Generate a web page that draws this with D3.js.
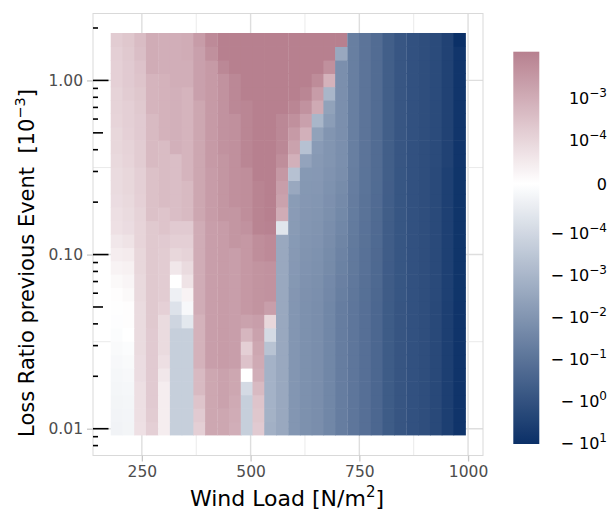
<!DOCTYPE html>
<html>
<head>
<meta charset="utf-8">
<script src="https://cdn.jsdelivr.net/npm/d3@7"></script>
<style>
  body { margin: 0; background: #ffffff; }
  text { font-family: "DejaVu Sans", sans-serif; }
</style>
</head>
<body>
<svg id="chart" width="611" height="510"></svg>
<script>
// Wind load categories [N/m^2] (tile centres)
const windLoads = [192, 219, 246, 273, 301, 328, 355, 382, 409, 437, 464, 491, 518, 545, 572,
                   600, 627, 654, 681, 708, 736, 763, 790, 817, 844, 872, 899, 926, 953, 980];

// Loss ratio of the previous event [10^-3] (tile centres, log spaced)
const lossRatios = [0.0100, 0.0119, 0.0142, 0.0170, 0.0203, 0.0242, 0.0289, 0.0345, 0.0412, 0.0492,
                    0.0587, 0.0701, 0.0837, 0.0999, 0.119, 0.142, 0.170, 0.203, 0.242, 0.289,
                    0.345, 0.412, 0.492, 0.587, 0.701, 0.837, 0.999, 1.19, 1.42, 1.70];

// Change in loss; one row per loss ratio (lowest first), one column per wind load
const deltaLoss = [
  [-3.2e-5,-2.8e-5,6.8e-5,1.2e-4,4e-5,-2.2e-4,-2.2e-4,1.2e-4,1.2e-3,1.2e-3,7.7e-4,-2.2e-4,1.55e-4,-1.8e-3,-3.1e-3,-1.1e-2,-1.55e-2,-1.9e-2,-3.1e-2,-6.1e-2,-9.7e-2,-0.155,-0.27,-0.61,-0.97,-1.23,-1.55,-2.2,-4.4,-9.3],
  [-3e-5,-2.7e-5,7.2e-5,1.4e-4,4e-5,-2.2e-4,-2.2e-4,1.55e-4,1.2e-3,1.2e-3,8.7e-4,-2.2e-4,1.9e-4,-1.6e-3,-3.1e-3,-1.1e-2,-1.55e-2,-1.9e-2,-3.1e-2,-6.1e-2,-9.7e-2,-0.155,-0.27,-0.61,-0.97,-1.23,-1.55,-2.2,-4.4,-9.3],
  [-2.8e-5,-2.5e-5,7.2e-5,1.55e-4,4e-5,-2.2e-4,-2.2e-4,2.2e-4,1.2e-3,1.55e-3,9.7e-4,-2.2e-4,2.2e-4,-1.55e-3,-3.1e-3,-1.1e-2,-1.55e-2,-1.9e-2,-3.1e-2,-6.1e-2,-9.7e-2,-0.155,-0.27,-0.61,-0.97,-1.23,-1.55,-2.2,-4.4,-9.3],
  [-2.5e-5,-2.2e-5,7.2e-5,1.55e-4,4e-5,-2.2e-4,-2.2e-4,3.9e-4,1.2e-3,1.55e-3,1.2e-3,-9.9e-5,3.9e-4,-1.55e-3,-3.1e-3,-1.1e-2,-1.55e-2,-1.9e-2,-3.1e-2,-6.1e-2,-9.7e-2,-0.155,-0.27,-0.61,-0.97,-1.23,-1.55,-2.2,-4.4,-9.3],
  [-2.2e-5,-1.8e-5,7.7e-5,1.55e-4,5.4e-5,-2.2e-4,-2.2e-4,3.9e-4,1.2e-3,1.55e-3,1.2e-3,0,7.7e-4,-1.55e-3,-3.1e-3,-1.1e-2,-1.55e-2,-1.9e-2,-3.1e-2,-6.1e-2,-9.7e-2,-0.155,-0.27,-0.61,-0.97,-1.23,-1.55,-2.2,-4.4,-9.3],
  [-1.8e-5,-1.4e-5,7.7e-5,1.55e-4,7.2e-5,-2.2e-4,-2.2e-4,6.1e-4,1.9e-3,2.2e-3,1.9e-3,2.45e-4,9.7e-4,-1.55e-3,-3.1e-3,-1.1e-2,-1.55e-2,-1.9e-2,-3.1e-2,-6.1e-2,-9.7e-2,-0.155,-0.27,-0.61,-0.97,-1.23,-1.55,-2.2,-4.4,-9.3],
  [-1.3e-5,-9e-6,8.1e-5,1.55e-4,8.1e-5,-2.2e-4,-2.2e-4,6.1e-4,1.9e-3,2.2e-3,1.9e-3,1.2e-4,1.2e-3,-4.9e-4,-3.1e-3,-1.1e-2,-1.55e-2,-1.9e-2,-3.1e-2,-6.1e-2,-9.7e-2,-0.155,-0.27,-0.61,-0.97,-1.23,-1.55,-2.2,-4.4,-9.3],
  [-9e-6,0,8.1e-5,1.55e-4,8.1e-5,-2.2e-4,-2.2e-4,6.1e-4,1.9e-3,2.2e-3,1.9e-3,4.9e-4,1.55e-3,-9.9e-5,-3.1e-3,-1.1e-2,-1.55e-2,-1.9e-2,-3.1e-2,-6.1e-2,-9.7e-2,-0.155,-0.27,-0.61,-0.97,-1.23,-1.55,-2.2,-4.4,-9.3],
  [-5e-6,4.5e-6,8.1e-5,1.7e-4,8.1e-5,-1.4e-4,-6.3e-5,6.1e-4,1.9e-3,2.2e-3,1.9e-3,1.55e-3,1.9e-3,9e-5,-3.1e-3,-1.1e-2,-1.55e-2,-1.9e-2,-3.1e-2,-6.1e-2,-9.7e-2,-0.155,-0.27,-0.61,-0.97,-1.23,-1.55,-2.2,-4.4,-9.3],
  [2e-6,4.5e-6,8.1e-5,1.7e-4,1.1e-4,-7.7e-5,-1.8e-5,8.7e-4,1.9e-3,2.2e-3,1.9e-3,2.7e-3,3.5e-3,1.9e-3,-3.1e-3,-1.1e-2,-1.55e-2,-1.9e-2,-3.1e-2,-6.1e-2,-9.7e-2,-0.155,-0.27,-0.61,-0.97,-1.23,-1.55,-2.2,-4.4,-9.3],
  [4.5e-6,1.4e-5,8.5e-5,1.7e-4,1.4e-4,-4e-5,2.7e-5,8.7e-4,1.9e-3,2.2e-3,1.9e-3,2.7e-3,3.5e-3,3.9e-3,-3.1e-3,-1.05e-2,-1.5e-2,-1.8e-2,-2.8e-2,-5.5e-2,-9.3e-2,-0.15,-0.26,-0.6,-0.92,-1.23,-1.55,-2.05,-4.0,-9.0],
  [1.4e-5,2.3e-5,8.5e-5,1.7e-4,1.4e-4,0,6.3e-5,8.7e-4,1.9e-3,2.2e-3,1.9e-3,2.7e-3,3.5e-3,3.9e-3,-3.1e-3,-9.7e-3,-1.4e-2,-1.7e-2,-2.6e-2,-4.9e-2,-8.7e-2,-0.145,-0.25,-0.59,-0.92,-1.23,-1.55,-2.05,-4.0,-9.0],
  [2.7e-5,3.2e-5,9e-5,1.7e-4,1.4e-4,5.4e-5,8.1e-5,8.7e-4,1.9e-3,2.2e-3,1.9e-3,2.7e-3,3.5e-3,3.9e-3,-3.1e-3,-9.3e-3,-1.3e-2,-1.55e-2,-2.4e-2,-4.4e-2,-8.3e-2,-0.14,-0.24,-0.58,-0.92,-1.23,-1.55,-2.05,-4.0,-9.0],
  [4e-5,4.5e-5,9e-5,1.7e-4,1.4e-4,9e-5,9.9e-5,8.7e-4,1.9e-3,2.2e-3,1.9e-3,2.7e-3,4.9e-3,6.1e-3,-3.1e-3,-8.9e-3,-1.25e-2,-1.45e-2,-2.2e-2,-3.9e-2,-7.9e-2,-0.137,-0.235,-0.57,-0.92,-1.23,-1.55,-2.05,-4.0,-9.0],
  [5.4e-5,6.3e-5,9.5e-5,1.7e-4,1.55e-4,1.2e-4,1.2e-4,8.7e-4,1.9e-3,2.2e-3,3.1e-3,2.7e-3,4.9e-3,6.1e-3,-3.1e-3,-8.5e-3,-1.2e-2,-1.35e-2,-2.0e-2,-3.5e-2,-7.5e-2,-0.13,-0.228,-0.555,-0.92,-1.23,-1.55,-2.05,-4.0,-9.0],
  [6.8e-5,7.7e-5,9.5e-5,1.7e-4,2.2e-4,1.55e-4,1.55e-4,8.7e-4,1.9e-3,2.2e-3,3.1e-3,3.9e-3,8.7e-3,9.7e-3,-7e-5,-7.9e-3,-1.1e-2,-1.25e-2,-1.85e-2,-3.1e-2,-7.1e-2,-0.128,-0.22,-0.545,-0.92,-1.23,-1.55,-2.05,-4.0,-9.0],
  [7.2e-5,8.1e-5,9.9e-5,2.7e-4,2.2e-4,3.1e-4,3.9e-4,1.2e-3,2.2e-3,3.1e-3,3.1e-3,4.9e-3,8.7e-3,1.05e-2,8.7e-4,-7.5e-3,-1.05e-2,-1.2e-2,-1.7e-2,-2.75e-2,-6.7e-2,-0.123,-0.213,-0.535,-0.92,-1.23,-1.55,-2.05,-4.0,-9.0],
  [7.7e-5,8.5e-5,1.1e-4,2.7e-4,3.5e-4,3.1e-4,3.9e-4,1.2e-3,2.2e-3,3.1e-3,4.4e-3,4.9e-3,8.7e-3,1.05e-2,1.55e-3,-7.2e-3,-1.0e-2,-1.1e-2,-1.6e-2,-2.45e-2,-6.4e-2,-0.12,-0.207,-0.52,-0.92,-1.23,-1.55,-2.05,-4.0,-9.0],
  [8.1e-5,9e-5,1.2e-4,2.7e-4,3.5e-4,3.1e-4,3.9e-4,1.2e-3,2.2e-3,3.1e-3,4.4e-3,4.9e-3,8.7e-3,1.05e-2,1.9e-3,-3.1e-3,-9.7e-3,-1.0e-2,-1.45e-2,-2.2e-2,-6.1e-2,-0.117,-0.2,-0.51,-0.92,-1.23,-1.55,-2.05,-4.0,-9.0],
  [8.1e-5,9e-5,1.2e-4,2.7e-4,3.5e-4,3.1e-4,5.5e-4,1.2e-3,2.2e-3,3.1e-3,4.4e-3,4.9e-3,1.05e-2,1.05e-2,2.7e-3,-5.5e-4,-9.1e-3,-9.3e-3,-1.35e-2,-1.9e-2,-5.8e-2,-0.112,-0.197,-0.5,-0.92,-1.23,-1.55,-2.05,-4.0,-9.0],
  [8.5e-5,9.5e-5,1.4e-4,3.9e-4,3.5e-4,3.1e-4,5.5e-4,1.2e-3,2.45e-3,3.1e-3,4.4e-3,7.7e-3,1.05e-2,1.05e-2,4.9e-3,6.9e-4,-4.4e-3,-8.7e-3,-1.2e-2,-1.75e-2,-5.5e-2,-0.11,-0.194,-0.49,-0.87,-1.23,-1.55,-1.94,-3.5,-8.7],
  [9e-5,9.9e-5,1.4e-4,3.9e-4,3.5e-4,6.9e-4,5.5e-4,1.2e-3,2.45e-3,3.9e-3,4.4e-3,7.7e-3,1.05e-2,1.05e-2,6.9e-3,1.55e-3,-5.5e-4,-7.7e-3,-1.2e-2,-1.75e-2,-5.5e-2,-0.11,-0.194,-0.49,-0.87,-1.23,-1.55,-1.94,-3.5,-8.7],
  [9e-5,1.1e-4,1.55e-4,3.9e-4,6.1e-4,6.9e-4,5.5e-4,1.2e-3,2.45e-3,3.9e-3,4.4e-3,7.7e-3,1.05e-2,1.05e-2,6.9e-3,2.45e-3,6.9e-4,-4.9e-3,-1.2e-2,-1.75e-2,-5.5e-2,-0.11,-0.194,-0.49,-0.87,-1.23,-1.55,-1.94,-3.5,-8.7],
  [9.5e-5,1.2e-4,1.55e-4,3.9e-4,6.1e-4,6.9e-4,5.5e-4,1.2e-3,2.45e-3,3.9e-3,4.4e-3,7.7e-3,1.05e-2,1.05e-2,6.9e-3,4.4e-3,1.7e-3,-1.2e-3,-6.9e-3,-1.75e-2,-5.5e-2,-0.11,-0.194,-0.49,-0.87,-1.23,-1.55,-1.94,-3.5,-8.7],
  [9.9e-5,1.2e-4,1.7e-4,5.5e-4,6.1e-4,6.9e-4,5.5e-4,1.2e-3,2.45e-3,3.9e-3,6.9e-3,7.7e-3,1.05e-2,1.05e-2,1.05e-2,7.7e-3,3.9e-3,9.7e-4,-4.9e-3,-1.75e-2,-5.5e-2,-0.11,-0.194,-0.49,-0.87,-1.23,-1.55,-1.94,-3.5,-8.7],
  [9.9e-5,1.4e-4,1.9e-4,5.5e-4,6.1e-4,6.9e-4,5.5e-4,1.7e-3,2.45e-3,3.9e-3,6.9e-3,1.05e-2,1.05e-2,1.08e-2,1.05e-2,1.05e-2,7.7e-3,2.2e-3,-1.2e-3,-1.75e-2,-5.5e-2,-0.11,-0.194,-0.49,-0.87,-1.23,-1.55,-1.94,-3.5,-8.7],
  [1.1e-4,1.55e-4,2.2e-4,5.5e-4,6.1e-4,7.7e-4,7.7e-4,1.7e-3,2.45e-3,3.9e-3,6.9e-3,1.05e-2,1.05e-2,1.05e-2,1.05e-2,1.05e-2,1.05e-2,5.5e-3,6.1e-4,-1.75e-2,-5.5e-2,-0.11,-0.194,-0.49,-0.87,-1.23,-1.55,-1.94,-3.5,-8.7],
  [1.1e-4,1.55e-4,2.45e-4,8.7e-4,7.7e-4,7.7e-4,7.7e-4,1.7e-3,2.45e-3,6.9e-3,1.05e-2,1.05e-2,1.05e-2,1.05e-2,1.05e-2,1.05e-2,1.05e-2,1.05e-2,4.4e-3,-1.75e-2,-5.5e-2,-0.11,-0.194,-0.49,-0.87,-1.23,-1.55,-1.94,-3.5,-8.7],
  [1.2e-4,1.7e-4,3.1e-4,8.7e-4,7.7e-4,7.7e-4,8.7e-4,1.7e-3,4.4e-3,1.05e-2,1.05e-2,1.05e-2,1.05e-2,1.05e-2,1.05e-2,1.05e-2,1.05e-2,1.05e-2,1.05e-2,-3.1e-3,-5.5e-2,-0.11,-0.194,-0.49,-0.87,-1.23,-1.55,-1.94,-3.5,-8.7],
  [1.4e-4,1.9e-4,3.5e-4,8.7e-4,7.7e-4,7.7e-4,8.7e-4,2.2e-3,6.1e-3,1.05e-2,1.05e-2,1.05e-2,1.05e-2,1.05e-2,1.05e-2,1.05e-2,1.05e-2,1.05e-2,1.05e-2,1.05e-2,-5.5e-2,-0.11,-0.194,-0.49,-0.87,-1.23,-1.55,-1.94,-3.5,-12.4]
];

// Axis ticks and labels
const xTicks = [250, 500, 750, 1000];
const xMinorGrid = [375, 625, 875];
const yTicks = [0.01, 0.1, 1];
const yTickLabels = ["0.01", "0.10", "1.00"];
const yMinorGrid = [0.0316, 0.316];
// Colour bar ticks and the exponents printed in their labels
const colorTicks = [1e-3, 1e-4, 0, -1e-4, -1e-3, -1e-2, -1e-1, -1, -10];
const colorTickExps = ["\u22123", "\u22124", null, "\u22124", "\u22123", "\u22122", "\u22121", "0", "1"];

const colorLow = "#0b3067", colorMid = "#ffffff", colorHigh = "#b7808f";

// ---------------------------------------------------------------
const svg = d3.select("#chart");
const panel = { left: 93, right: 483, top: 13.5, bottom: 455.5 };

// symmetric log transform (linear within +-linthresh)
const linthresh = 1e-4, linAdj = 1 / (1 - 1 / 10);
function symlog(v) {
  const a = Math.abs(v);
  if (a <= linthresh) return v / linthresh * linAdj;
  return Math.sign(v) * (linAdj + Math.log10(a / linthresh));
}

const nx = windLoads.length, ny = lossRatios.length;
const xStep = (windLoads[nx - 1] - windLoads[0]) / (nx - 1);
const xLo = windLoads[0] - xStep / 2, xHi = windLoads[nx - 1] + xStep / 2;
const xPad = (xHi - xLo) * 0.05;
const x = d3.scaleLinear().domain([xLo - xPad, xHi + xPad]).range([panel.left, panel.right]);

const lStep = (Math.log10(lossRatios[ny - 1]) - Math.log10(lossRatios[0])) / (ny - 1);
const lLo = Math.log10(lossRatios[0]) - lStep / 2, lHi = Math.log10(lossRatios[ny - 1]) + lStep / 2;
const lPad = (lHi - lLo) * 0.05;
const y = d3.scaleLog().domain([10 ** (lLo - lPad), 10 ** (lHi + lPad)]).range([panel.bottom, panel.top]);

const flat = deltaLoss.flat();
const [vMin, vMax] = d3.extent(flat);
const tMin = symlog(vMin), tMax = symlog(vMax);
const color = d3.scaleLinear().domain([tMin, 0, tMax])
  .range([colorLow, colorMid, colorHigh]).interpolate(d3.interpolateRgb).clamp(true);

// grid
const grid = svg.append("g");
xMinorGrid.forEach(v => grid.append("line").attr("x1", x(v)).attr("x2", x(v))
  .attr("y1", panel.top).attr("y2", panel.bottom).attr("stroke", "#ebebeb").attr("stroke-width", 1));
xTicks.forEach(v => grid.append("line").attr("x1", x(v)).attr("x2", x(v))
  .attr("y1", panel.top).attr("y2", panel.bottom).attr("stroke", "#dedede").attr("stroke-width", 1.4));
yMinorGrid.forEach(v => grid.append("line").attr("y1", y(v)).attr("y2", y(v))
  .attr("x1", panel.left).attr("x2", panel.right).attr("stroke", "#ebebeb").attr("stroke-width", 1));
yTicks.forEach(v => grid.append("line").attr("y1", y(v)).attr("y2", y(v))
  .attr("x1", panel.left).attr("x2", panel.right).attr("stroke", "#dedede").attr("stroke-width", 1.4));

// tiles
const cells = [];
deltaLoss.forEach((row, j) => row.forEach((v, i) => cells.push({ i, j, v })));
const tileW = Math.abs(x(xStep) - x(0));
svg.append("g").selectAll("rect").data(cells).join("rect")
  .attr("x", d => x(windLoads[d.i] - xStep / 2))
  .attr("width", tileW + 0.6)
  .attr("y", d => y(lossRatios[d.j] * 10 ** (lStep / 2)) - 0.6)
  .attr("height", d => y(lossRatios[d.j] / 10 ** (lStep / 2)) - y(lossRatios[d.j] * 10 ** (lStep / 2)) + 0.6)
  .attr("fill", d => color(symlog(d.v)));

// panel border
svg.append("rect").attr("x", panel.left).attr("y", panel.top)
  .attr("width", panel.right - panel.left).attr("height", panel.bottom - panel.top)
  .attr("fill", "none").attr("stroke", "#d9d9d9").attr("stroke-width", 1);

// log ticks along the left edge
const logTicks = svg.append("g").attr("stroke", "#000").attr("stroke-width", 1.6);
for (let d = -3; d <= 1; d++) {
  for (let k = 1; k <= 9; k++) {
    const v = k * 10 ** d;
    const py = y(v);
    if (py < panel.top || py > panel.bottom) continue;
    const len = k === 1 ? 15.5 : (k === 5 ? 10 : 5);
    logTicks.append("line").attr("x1", panel.left).attr("x2", panel.left + len)
      .attr("y1", py).attr("y2", py);
  }
}

// x axis
const xAxis = svg.append("g").attr("transform", `translate(0,${panel.bottom})`)
  .call(d3.axisBottom(x).tickValues(xTicks).tickSize(6).tickPadding(4).tickFormat(d3.format("d")));
xAxis.select(".domain").remove();
xAxis.selectAll(".tick line").attr("stroke", "#c8c8c8").attr("stroke-width", 1.3);
xAxis.selectAll(".tick text").attr("fill", "#4d4d4d").attr("font-size", 15.5)
  .attr("font-family", "DejaVu Sans");

// y axis
const yAxis = svg.append("g").attr("transform", `translate(${panel.left},0)`)
  .call(d3.axisLeft(y).tickValues(yTicks).tickSize(6).tickPadding(4)
    .tickFormat((d, i) => yTickLabels[i]));
yAxis.select(".domain").remove();
yAxis.selectAll(".tick line").attr("stroke", "#c8c8c8").attr("stroke-width", 1.3);
yAxis.selectAll(".tick text").attr("fill", "#4d4d4d").attr("font-size", 15.5)
  .attr("font-family", "DejaVu Sans");

// axis titles
const xTitle = svg.append("text").attr("x", 287).attr("y", 506)
  .attr("text-anchor", "middle").attr("font-size", 22).attr("fill", "#000");
xTitle.append("tspan").text("Wind Load [N/m");
xTitle.append("tspan").attr("font-size", 15).attr("dy", -9.5).text("2");
xTitle.append("tspan").attr("dy", 9.5).text("]");

const yTitle = svg.append("text").attr("transform", "translate(34,263) rotate(-90)")
  .attr("text-anchor", "middle").attr("font-size", 21).attr("fill", "#000")
  .style("white-space", "pre");
yTitle.append("tspan").text("Loss Ratio previous Event  [10");
yTitle.append("tspan").attr("font-size", 14.5).attr("dy", -9).text("\u22123");
yTitle.append("tspan").attr("dy", 9).text("]");

// colour bar
const cb = { x: 513.3, w: 26, top: 51.7, bottom: 444 };
const cbScale = d3.scaleLinear().domain([tMin, tMax]).range([cb.bottom, cb.top]);
const defs = svg.append("defs");
const grad = defs.append("linearGradient").attr("id", "cbGrad")
  .attr("x1", 0).attr("y1", 1).attr("x2", 0).attr("y2", 0);
const zeroOffset = (0 - tMin) / (tMax - tMin);
const stopOffsets = d3.range(0, 1.0001, 0.02).concat([zeroOffset]).sort((a, b) => a - b);
stopOffsets.forEach(f => {
  grad.append("stop").attr("offset", f).attr("stop-color", color(tMin + f * (tMax - tMin)));
});
svg.append("rect").attr("x", cb.x).attr("y", cb.top).attr("width", cb.w)
  .attr("height", cb.bottom - cb.top).attr("fill", "url(#cbGrad)");

const cbLabels = svg.append("g");
colorTicks.forEach((v, k) => {
  const py = cbScale(symlog(v));
  const t = cbLabels.append("text").attr("x", 607)
    .attr("text-anchor", "end").attr("font-size", 16).attr("fill", "#000")
    .style("white-space", "pre");
  if (colorTickExps[k] === null) { t.attr("y", py + 6).text("0"); return; }
  t.attr("y", py + 9);
  t.append("tspan").text((v < 0 ? "\u2212 " : "") + "10");
  t.append("tspan").attr("font-size", 12).attr("dy", -7.5).text(colorTickExps[k]);
});
</script>
</body>
</html>
